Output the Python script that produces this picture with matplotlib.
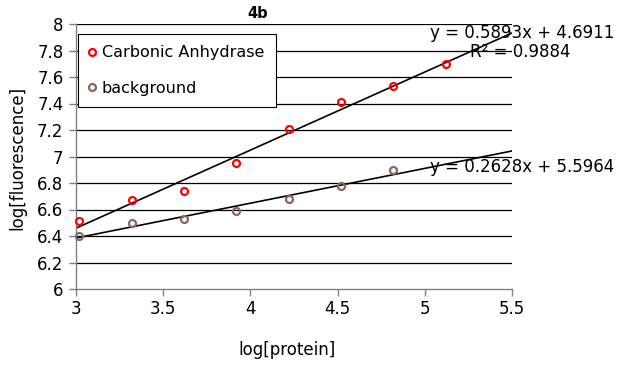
import matplotlib.pyplot as plt
import numpy as np

# data
log_protein = [3.02, 3.32, 3.62, 3.92, 4.22, 4.52, 4.82, 5.12]
carbonic_anhydrase = [6.51, 6.67, 6.74, 6.95, 7.21, 7.41, 7.53, 7.70]
background = [6.40, 6.50, 6.53, 6.59, 6.68, 6.78, 6.90]

# trendline coefficients (slope, intercept) as printed on the chart
ca_fit = (0.5893, 4.6911)
bg_fit = (0.2628, 5.5964)
ca_r2 = 0.9884

x_ticks = [3, 3.5, 4, 4.5, 5, 5.5]
y_ticks = [6, 6.2, 6.4, 6.6, 6.8, 7, 7.2, 7.4, 7.6, 7.8, 8]

plt.rcParams["font.family"] = ["DejaVu Sans"]

fig = plt.figure(figsize=(6.26, 3.65), dpi=100)
ax = fig.add_axes([76 / 626, 1 - 289 / 365, 436 / 626, 265 / 365])

ax.set_xlim(3, 5.5)
ax.set_ylim(6, 8)

for yv in y_ticks[1:]:
    ax.axhline(yv, color="black", lw=0.9, zorder=1)

# trendlines over the full x range
xs = np.array([3, 5.5])
ax.plot(xs, ca_fit[0] * xs + ca_fit[1], color="black", lw=1.2, zorder=2)
ax.plot(xs, bg_fit[0] * xs + bg_fit[1], color="black", lw=1.2, zorder=2)

ax.plot(log_protein, carbonic_anhydrase, "o", ms=5, mfc="none", mec="#ff0000",
        mew=1.6, label="Carbonic Anhydrase", zorder=3, clip_on=False)
ax.plot(log_protein[:len(background)], background, "o", ms=5, mfc="none",
        mec="#8c6464", mew=1.6, label="background", zorder=3, clip_on=False)

ax.set_xticks(x_ticks)
ax.set_xticklabels(["3", "3.5", "4", "4.5", "5", "5.5"])
ax.set_yticks(y_ticks)
ax.set_yticklabels(["6", "6.2", "6.4", "6.6", "6.8", "7", "7.2", "7.4", "7.6", "7.8", "8"])
ax.tick_params(axis="both", labelsize=12, color="#808080", length=5, width=1,
               direction="out")
ax.tick_params(axis="x", pad=3)
ax.tick_params(axis="y", pad=4)

for side in ["top", "right"]:
    ax.spines[side].set_visible(False)
for side in ["left", "bottom"]:
    ax.spines[side].set_color("#808080")
    ax.spines[side].set_linewidth(1)

ax.set_xlabel("log[protein]", fontsize=12, va="center")
ax.xaxis.set_label_coords(287 / 626, 1 - 350 / 365, transform=fig.transFigure)
ax.set_ylabel("log[fluorescence]", fontsize=12, va="center")
ax.yaxis.set_label_coords(17 / 626, 1 - 158 / 365, transform=fig.transFigure)

fig.text(258 / 626, 1 - 14 / 365, "4b", fontsize=10.5, fontweight="bold",
         ha="center", va="center")

# trendline equations
fig.text(614 / 626, 1 - 33 / 365, f"y = {ca_fit[0]:.4f}x + {ca_fit[1]:.4f}",
         fontsize=12, ha="right", va="center")
fig.text(570 / 626, 1 - 52 / 365, f"R² = {ca_r2:.4f}",
         fontsize=12, ha="right", va="center")
fig.text(614 / 626, 1 - 167 / 365, f"y = {bg_fit[0]:.4f}x + {bg_fit[1]:.4f}",
         fontsize=12, ha="right", va="center")

leg = ax.legend(loc="upper left", bbox_to_anchor=(78 / 626, 1 - 34 / 365),
                bbox_transform=fig.transFigure, fontsize=11.5, frameon=True,
                fancybox=False, edgecolor="black", framealpha=1,
                handlelength=0.4, handletextpad=0.4, labelspacing=1.3,
                borderpad=0.7, borderaxespad=0)
leg.get_frame().set_linewidth(0.8)

fig.savefig("out.png", dpi=100)
